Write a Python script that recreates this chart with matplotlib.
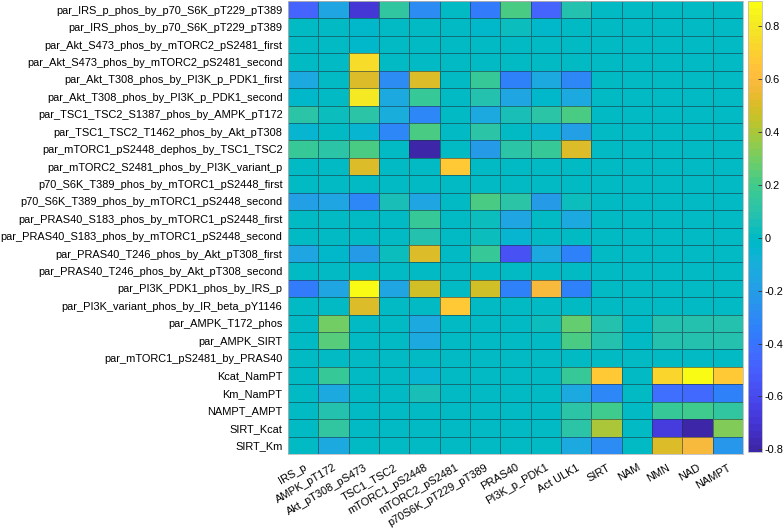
import numpy as np
import matplotlib
matplotlib.use("Agg")
import matplotlib.pyplot as plt
from matplotlib.colors import ListedColormap

plt.rcParams['font.family'] = ['Liberation Sans', 'DejaVu Sans']
plt.rcParams['axes.unicode_minus'] = False

row_labels = [
    "par_IRS_p_phos_by_p70_S6K_pT229_pT389",
    "par_IRS_phos_by_p70_S6K_pT229_pT389",
    "par_Akt_S473_phos_by_mTORC2_pS2481_first",
    "par_Akt_S473_phos_by_mTORC2_pS2481_second",
    "par_Akt_T308_phos_by_PI3K_p_PDK1_first",
    "par_Akt_T308_phos_by_PI3K_p_PDK1_second",
    "par_TSC1_TSC2_S1387_phos_by_AMPK_pT172",
    "par_TSC1_TSC2_T1462_phos_by_Akt_pT308",
    "par_mTORC1_pS2448_dephos_by_TSC1_TSC2",
    "par_mTORC2_S2481_phos_by_PI3K_variant_p",
    "p70_S6K_T389_phos_by_mTORC1_pS2448_first",
    "p70_S6K_T389_phos_by_mTORC1_pS2448_second",
    "par_PRAS40_S183_phos_by_mTORC1_pS2448_first",
    "par_PRAS40_S183_phos_by_mTORC1_pS2448_second",
    "par_PRAS40_T246_phos_by_Akt_pT308_first",
    "par_PRAS40_T246_phos_by_Akt_pT308_second",
    "par_PI3K_PDK1_phos_by_IRS_p",
    "par_PI3K_variant_phos_by_IR_beta_pY1146",
    "par_AMPK_T172_phos",
    "par_AMPK_SIRT",
    "par_mTORC1_pS2481_by_PRAS40",
    "Kcat_NamPT",
    "Km_NamPT",
    "NAMPT_AMPT",
    "SIRT_Kcat",
    "SIRT_Km",
]

col_labels = ["IRS_p", "AMPK_pT172", "Akt_pT308_pS473", "TSC1_TSC2", "mTORC1_pS2448",
              "mTORC2_pS2481", "p70S6K_pT229_pT389", "PRAS40", "PI3K_p_PDK1", "Act ULK1",
              "SIRT", "NAM", "NMN", "NAD", "NAMPT"]

values = np.array([
    # IRS  AMPK  Akt   TSC   mT1   mT2   p70   PRAS  PI3K  ULK   SIRT  NAM   NMN   NAD   NAMPT
    [-0.48,-0.15,-0.70, 0.14,-0.30, 0.00,-0.38, 0.22,-0.47, 0.08, 0.00, 0.00, 0.00, 0.00, 0.00],
    [ 0.00, 0.00,-0.03, 0.00, 0.00, 0.00,-0.02, 0.02,-0.02, 0.01, 0.00, 0.00, 0.00, 0.00, 0.00],
    [ 0.00, 0.00,-0.02, 0.00, 0.00, 0.00, 0.00, 0.00, 0.00, 0.00, 0.00, 0.00, 0.00, 0.00, 0.00],
    [ 0.00, 0.00, 0.75, 0.00, 0.00, 0.00, 0.00, 0.00, 0.00, 0.00, 0.00, 0.00, 0.00, 0.00, 0.00],
    [-0.12, 0.00, 0.50,-0.28, 0.50, 0.00, 0.15,-0.35,-0.12,-0.33, 0.00, 0.00, 0.00, 0.00, 0.00],
    [-0.03, 0.00, 0.80,-0.12, 0.15, 0.00, 0.07,-0.15,-0.03,-0.14, 0.00, 0.00, 0.00, 0.00, 0.00],
    [ 0.10, 0.03, 0.10,-0.10,-0.33, 0.00,-0.12, 0.06, 0.10, 0.22, 0.00, 0.00, 0.00, 0.00, 0.00],
    [-0.04, 0.00,-0.06,-0.33, 0.22, 0.00, 0.10, 0.00,-0.05,-0.18, 0.00, 0.00, 0.00, 0.00, 0.00],
    [ 0.17, 0.10, 0.22,-0.01,-0.79, 0.00,-0.22, 0.10, 0.15, 0.50, 0.00, 0.00, 0.00, 0.00, 0.00],
    [ 0.00, 0.00, 0.50, 0.00, 0.00, 0.66, 0.00, 0.00, 0.00, 0.00, 0.00, 0.00, 0.00, 0.00, 0.00],
    [ 0.00, 0.00, 0.00, 0.00, 0.00, 0.00, 0.00, 0.00, 0.00, 0.00, 0.00, 0.00, 0.00, 0.00, 0.00],
    [-0.18,-0.15,-0.32, 0.05,-0.15, 0.00, 0.22, 0.10,-0.20, 0.04, 0.00, 0.00, 0.00, 0.00, 0.00],
    [ 0.00, 0.00, 0.00, 0.01, 0.15, 0.00, 0.03,-0.17, 0.00,-0.13, 0.00, 0.00, 0.00, 0.00, 0.00],
    [ 0.00, 0.00, 0.00, 0.00, 0.07, 0.00, 0.02,-0.04, 0.00, 0.00, 0.00, 0.00, 0.00, 0.00, 0.00],
    [-0.15,-0.02,-0.20, 0.02, 0.51, 0.00, 0.15,-0.55,-0.14,-0.35, 0.00, 0.00, 0.00, 0.00, 0.00],
    [ 0.00, 0.00, 0.00, 0.00, 0.00, 0.00, 0.00, 0.00, 0.00, 0.00, 0.00, 0.00, 0.00, 0.00, 0.00],
    [-0.38,-0.15, 0.87,-0.15, 0.47, 0.00, 0.49,-0.35, 0.60,-0.35, 0.00, 0.00, 0.00, 0.00, 0.00],
    [ 0.00, 0.00, 0.50, 0.00, 0.00, 0.66, 0.00, 0.00, 0.00, 0.00, 0.00, 0.00, 0.00, 0.00, 0.00],
    [ 0.00, 0.29, 0.00, 0.00,-0.13, 0.00, 0.00, 0.00, 0.02, 0.28, 0.08, 0.00, 0.08, 0.08, 0.08],
    [ 0.00, 0.24, 0.00, 0.00,-0.13, 0.00, 0.00, 0.00, 0.00, 0.22, 0.08, 0.00, 0.07, 0.07, 0.07],
    [ 0.00, 0.00, 0.00, 0.00, 0.00, 0.00, 0.00, 0.00, 0.00, 0.00, 0.00, 0.00, 0.00, 0.00, 0.00],
    [ 0.00, 0.15, 0.00, 0.00,-0.05, 0.00, 0.00, 0.00, 0.00, 0.15, 0.68, 0.00, 0.72, 0.89, 0.68],
    [ 0.00,-0.12, 0.00, 0.00, 0.05, 0.00, 0.00, 0.00, 0.00,-0.12,-0.33, 0.00,-0.42,-0.45,-0.34],
    [ 0.00, 0.08, 0.00, 0.00, 0.00, 0.00, 0.00, 0.00, 0.00, 0.10, 0.18, 0.00, 0.17, 0.20, 0.14],
    [ 0.00, 0.14, 0.00, 0.00, 0.00, 0.00, 0.00, 0.00, 0.00, 0.12, 0.40, 0.00,-0.66,-0.80, 0.32],
    [ 0.00,-0.12, 0.00, 0.00, 0.00, 0.00, 0.00, 0.00, 0.00,-0.12,-0.30, 0.00, 0.50, 0.60,-0.23],
])

cbar_ticks = [-0.8, -0.6, -0.4, -0.2, 0, 0.2, 0.4, 0.6, 0.8]
cbar_ticklabels = ["-0.8", "-0.6", "-0.4", "-0.2", "0", "0.2", "0.4", "0.6", "0.8"]

parula_data = [
    [0.2422,0.1504,0.6603],[0.2504,0.1650,0.7076],[0.2578,0.1818,0.7511],[0.2647,0.1978,0.7952],
    [0.2706,0.2147,0.8364],[0.2751,0.2342,0.8710],[0.2783,0.2559,0.8991],[0.2803,0.2782,0.9221],
    [0.2813,0.3006,0.9414],[0.2810,0.3228,0.9579],[0.2795,0.3447,0.9717],[0.2760,0.3667,0.9829],
    [0.2699,0.3892,0.9906],[0.2602,0.4123,0.9952],[0.2440,0.4358,0.9988],[0.2206,0.4603,0.9973],
    [0.1963,0.4847,0.9892],[0.1834,0.5074,0.9798],[0.1786,0.5289,0.9682],[0.1764,0.5499,0.9520],
    [0.1687,0.5703,0.9359],[0.1540,0.5902,0.9218],[0.1460,0.6091,0.9079],[0.1380,0.6276,0.8973],
    [0.1248,0.6459,0.8883],[0.1113,0.6635,0.8763],[0.0952,0.6798,0.8598],[0.0689,0.6948,0.8394],
    [0.0297,0.7082,0.8163],[0.0036,0.7203,0.7917],[0.0067,0.7312,0.7660],[0.0433,0.7411,0.7394],
    [0.0964,0.7500,0.7120],[0.1408,0.7584,0.6842],[0.1717,0.7670,0.6554],[0.1938,0.7758,0.6251],
    [0.2161,0.7843,0.5923],[0.2470,0.7918,0.5567],[0.2906,0.7973,0.5188],[0.3406,0.8008,0.4789],
    [0.3909,0.8029,0.4354],[0.4456,0.8024,0.3909],[0.5044,0.7993,0.3480],[0.5616,0.7942,0.3045],
    [0.6174,0.7876,0.2612],[0.6720,0.7793,0.2227],[0.7242,0.7698,0.1910],[0.7738,0.7598,0.1646],
    [0.8203,0.7498,0.1535],[0.8634,0.7406,0.1596],[0.9035,0.7330,0.1774],[0.9393,0.7288,0.2100],
    [0.9728,0.7298,0.2394],[0.9956,0.7434,0.2371],[0.9970,0.7659,0.2199],[0.9952,0.7893,0.2028],
    [0.9892,0.8136,0.1885],[0.9786,0.8386,0.1766],[0.9676,0.8639,0.1643],[0.9610,0.8890,0.1537],
    [0.9597,0.9135,0.1423],[0.9628,0.9373,0.1265],[0.9691,0.9606,0.1064],[0.9769,0.9839,0.0805],
]
parula = ListedColormap(parula_data, name="parula")

fig = plt.figure(figsize=(7.84, 5.30), dpi=100)
ax = fig.add_axes([288/784, 1 - 454/530, (743-288)/784, 453/530])
cax = fig.add_axes([748/784, 1 - 452/530, 14/784, 451/530])

nr, nc = values.shape
mesh = ax.pcolormesh(np.arange(nc + 1), np.arange(nr + 1), values, cmap=parula,
                     vmin=-0.81, vmax=0.895, edgecolors=(0.1, 0.2, 0.25, 0.55), linewidth=0.6)
ax.set_xlim(0, nc)
ax.set_ylim(nr, 0)
ax.set_xticks(np.arange(nc) + 0.5)
ax.set_xticklabels(col_labels, rotation=30, ha='right', rotation_mode='anchor', fontsize=7.9)
ax.set_yticks(np.arange(nr) + 0.5)
ax.set_yticklabels(row_labels, fontsize=7.9)
ax.tick_params(axis='y', length=0, pad=4)
ax.tick_params(axis='x', length=0, pad=6)
for s in ax.spines.values():
    s.set_color('#bbbbbb')
    s.set_linewidth(0.6)

cb = fig.colorbar(mesh, cax=cax)
cb.set_ticks(cbar_ticks)
cb.set_ticklabels(cbar_ticklabels)
cax.tick_params(direction='in', length=3, width=0.6, labelsize=7.9, color='#333333', pad=2)
cb.outline.set_edgecolor('#bbbbbb')
cb.outline.set_linewidth(0.6)

fig.savefig("out.png", dpi=100)
